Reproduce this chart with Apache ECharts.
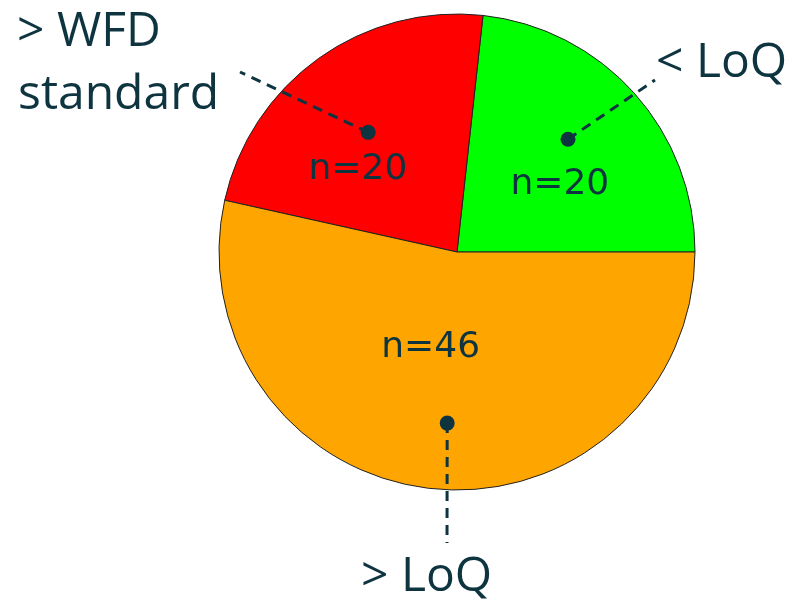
<!DOCTYPE html>
<html>
<head>
<meta charset="utf-8">
<script src="https://cdn.jsdelivr.net/npm/echarts@6/dist/echarts.min.js"></script>
<style>html,body{margin:0;padding:0;background:#fff}#c{width:797px;height:601px}</style>
</head>
<body>
<div id="c"></div>
<script>
// Data
const categories = ['< LoQ', '> WFD standard', '> LoQ'];
const counts = [20, 20, 46];
const sliceColors = ['#00ff00', '#ff0000', '#ffa500'];
const calloutTexts = [['< LoQ'], ['> WFD', 'standard'], ['> LoQ']];

// Layout (not data)
const CX = 457, CY = 252, R = 238;
const TEXT = '#0e3440';
const FONT = '"Open Sans", sans-serif';
const INNER_FONT = '"DejaVu Sans", sans-serif';
const innerLabelOffsets = [[12, 14], [-28, 17], [-13, -26]];
const dotPolar = [[0.665, 3.6], [0.626, 1.0], [0.72, 3.0]]; // radius fraction, angle shift
const leaderEnds = [[655, 80], [240, 72], [447, 543]];
const calloutPos = [[[656, 63]], [[17, 32], [18, 95]], [[361, 577]]];

const chart = echarts.init(document.getElementById('c'), null, {renderer: 'canvas'});

const total = counts.reduce((a, b) => a + b, 0);
let acc = 0;
const midAngles = counts.map(v => { const a = (acc + v / 2) / total * 360; acc += v; return a; });

const graphics = [];
categories.forEach((c, i) => {
  const ang = (midAngles[i] + dotPolar[i][1]) * Math.PI / 180;
  const r = dotPolar[i][0] * R;
  const dx = CX + r * Math.cos(ang), dy = CY - r * Math.sin(ang);
  graphics.push({
    type: 'line', z: 100,
    shape: {x1: dx, y1: dy, x2: leaderEnds[i][0], y2: leaderEnds[i][1]},
    style: {stroke: TEXT, lineWidth: 3, lineDash: [10, 7]}
  });
  graphics.push({
    type: 'circle', z: 101,
    shape: {cx: dx, cy: dy, r: 7.5},
    style: {fill: TEXT}
  });
  calloutTexts[i].forEach((t, j) => {
    graphics.push({
      type: 'text', z: 102,
      x: calloutPos[i][j][0], y: calloutPos[i][j][1],
      style: {text: t, fill: TEXT, font: '48px ' + FONT, textAlign: 'left', textVerticalAlign: 'middle'}
    });
  });
});

chart.setOption({
  animation: false,
  backgroundColor: '#ffffff',
  series: [{
    type: 'pie',
    center: [CX, CY],
    radius: R,
    startAngle: 0,
    clockwise: false,
    silent: true,
    itemStyle: {borderColor: '#222', borderWidth: 1},
    label: {
      show: true, position: 'inside',
      formatter: p => 'n=' + p.value,
      color: TEXT, fontSize: 36, fontFamily: INNER_FONT
    },
    labelLine: {show: false},
    data: categories.map((c, i) => ({
      name: c, value: counts[i],
      itemStyle: {color: sliceColors[i]},
      label: {offset: innerLabelOffsets[i]}
    }))
  }],
  graphic: graphics
});
</script>
</body>
</html>
